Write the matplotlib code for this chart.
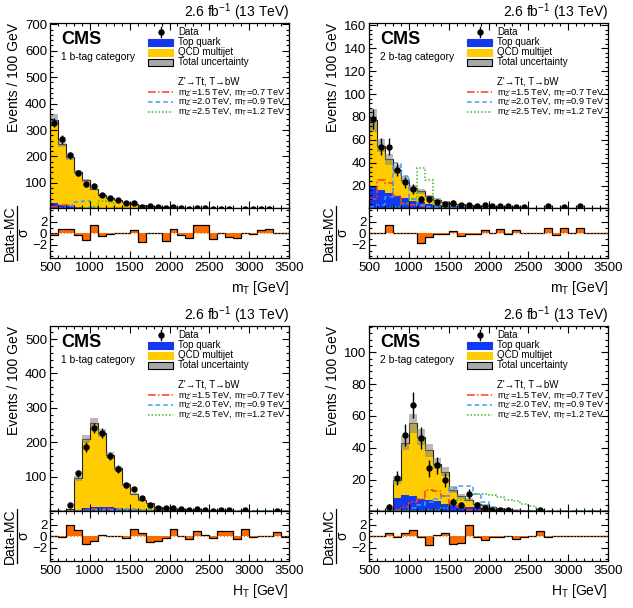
import numpy as np
import matplotlib
matplotlib.use("Agg")
import matplotlib.pyplot as plt
from matplotlib.ticker import MultipleLocator, FixedLocator
from matplotlib.patches import Rectangle
from matplotlib.lines import Line2D

plt.rcParams['font.family'] = ['Liberation Sans', 'DejaVu Sans']
plt.rcParams['mathtext.fontset'] = 'custom'
plt.rcParams['mathtext.rm'] = 'Liberation Sans'
plt.rcParams['mathtext.it'] = 'Liberation Sans:italic'
plt.rcParams['mathtext.bf'] = 'Liberation Sans:bold'

# ---------------- data ----------------
bin_edges = list(range(500, 3600, 100))

# Panel A: m_T, 1 b-tag
A_top = [24, 17, 12, 8, 6, 4.5, 3.5, 2.5, 2, 1.5, 1.2, 1, 0.8, 0.6, 0.5, 0.4, 0.3, 0.3, 0.2, 0.2,
         0.2, 0.1, 0.1, 0.1, 0.1, 0.1, 0.1, 0.1, 0.1, 0.1]
A_qcd = [315, 232, 186, 133, 104, 73.5, 52.5, 40.5, 32, 25.5, 20.8, 16, 12.2, 9.4, 7.5, 6.1, 4.7, 3.7,
         3.1, 2.5, 2.0, 1.7, 1.4, 1.1, 0.9, 0.7, 0.6, 0.5, 0.4, 0.3]
A_unc = [20, 14, 11, 8, 6.5, 4.5, 3.3, 2.6, 2, 1.7, 1.4, 1.1, 0.9, 0.7, 0.6, 0.5, 0.4, 0.3, 0.3, 0.2,
         0.2, 0.2, 0.1, 0.1, 0.1, 0.1, 0.1, 0.1, 0.1, 0.1]
A_data = [328, 265, 204, 138, 95, 87, 53, 41, 34, 24, 25, 10, 13, 10, 4, 8, 4, 2, 6, 5,
          1, 2, 1, 0, 1, 1, 1, 1, 0, 0]
A_sig1 = [10, 18, 16, 6, 3, 1.5, 1, 0.5, 0.3, 0.2, 0.1, 0, 0, 0, 0, 0, 0, 0, 0, 0,
          0, 0, 0, 0, 0, 0, 0, 0, 0, 0]
A_sig2 = [2, 4, 12, 28, 30, 10, 3, 1.5, 1, 0.5, 0.3, 0.2, 0.1, 0, 0, 0, 0, 0, 0, 0,
          0, 0, 0, 0, 0, 0, 0, 0, 0, 0]
A_sig3 = [0.5, 1, 2, 4, 6, 8, 30, 28, 6, 2, 1, 0.5, 0.3, 0.2, 0.1, 0, 0, 0, 0, 0,
          0, 0, 0, 0, 0, 0, 0, 0, 0, 0]
A_ratio = [-0.3, 0.8, 0.8, -0.3, -1.2, 1.5, -0.4, -0.2, 0, 0, 0.6, -1.6, 0, 0, -1.3, 0.7, -0.3, -0.8,
           1.4, 1.4, -1.0, 0, -0.6, -0.8, 0, -0.2, 0.5, 0.7, 0, 0]

# Panel B: m_T, 2 b-tag
B_top = [19, 16.5, 13.5, 11, 9, 7, 5.8, 4.3, 3.3, 2.5, 2, 1.6, 1.3, 1, 0.8, 0.6, 0.5, 0.4, 0.3, 0.3,
         0.2, 0.2, 0.2, 0.1, 0.1, 0.1, 0.1, 0.1, 0.1, 0.1]
B_qcd = [58, 38.5, 29.5, 23, 16, 11, 9.2, 6.4, 4.5, 3, 2.3, 2, 1.7, 1.5, 1.2, 1.1, 0.9, 0.8, 0.7, 0.5,
         0.4, 0.3, 0.2, 0.3, 0.2, 0.2, 0.1, 0.1, 0.1, 0.0]
B_unc = [10, 6, 5, 4, 3, 2.5, 2, 1.5, 1.1, 0.8, 0.6, 0.5, 0.4, 0.4, 0.3, 0.3, 0.2, 0.2, 0.2, 0.1,
         0.1, 0.1, 0.1, 0.1, 0.1, 0.1, 0.1, 0.1, 0.1, 0.1]
B_data = [78, 54, 54, 34, 23, 17, 8, 8, 6, 4, 5, 3, 3, 2, 3, 2, 2, 2, 1, 1,
          0, 0, 2, 0, 1, 0, 2, 0, 0, 0]
B_sig1 = [8, 25, 22, 11, 5, 3, 2, 1, 0.6, 0.4, 0.3, 0.2, 0, 0, 0, 0, 0, 0, 0, 0,
          0, 0, 0, 0, 0, 0, 0, 0, 0, 0]
B_sig2 = [1, 3, 10, 40, 28, 8, 3, 1.5, 1, 0.6, 0.4, 0.3, 0, 0, 0, 0, 0, 0, 0, 0,
          0, 0, 0, 0, 0, 0, 0, 0, 0, 0]
B_sig3 = [0, 0, 0.5, 1.5, 4, 8, 35, 25, 3.5, 1.5, 0.8, 0.5, 0.3, 0, 0, 0, 0, 0, 0, 0,
          0, 0, 0, 0, 0, 0, 0, 0, 0, 0]
B_ratio = [0, 0, 1.5, 0.1, 0, 0, -1.7, -0.6, -0.2, -0.2, 0.4, -0.5, -0.1, -0.1, 0.6, 0, 0.8, -0.1,
           0.5, 0, 0, 0, 0.9, -0.3, 0.9, 0, 0.9, 0, 0, 0]

# Panel C: H_T, 1 b-tag
C_top = [0, 0, 0.5, 4, 9, 13, 13, 11, 8, 6, 4.5, 3, 2, 1.5, 1, 0.8, 0.6, 0.5, 0.4, 0.3,
         0.2, 0.2, 0.1, 0.1, 0.1, 0.1, 0.1, 0.1, 0.1, 0.1]
C_qcd = [0, 0, 5.5, 91, 201, 243, 214, 153, 116, 72, 46.5, 29, 21, 11.5, 8, 6.2, 4.4, 3.5, 2.6, 2.2,
         1.8, 1.4, 1.2, 1.0, 0.8, 0.6, 0.5, 0.4, 0.3, 0.2]
C_unc = [0, 0, 1, 6, 12, 14, 12, 9, 7, 4.5, 3, 2, 1.5, 1, 0.7, 0.5, 0.4, 0.3, 0.3, 0.2,
         0.2, 0.1, 0.1, 0.1, 0.1, 0.1, 0.1, 0.1, 0.1, 0.1]
C_data = [0, 0, 17, 110, 187, 242, 227, 160, 123, 75, 63, 38, 18, 10, 8, 10, 5, 3, 5, 3,
          1, 3, 3, 0, 2, 0, 0, 0, 1, 0]
C_sig1 = [0, 0, 0, 1, 3, 5, 6, 6, 5, 3, 2, 1, 0.5, 0.3, 0.2, 0.1, 0, 0, 0, 0,
          0, 0, 0, 0, 0, 0, 0, 0, 0, 0]
C_sig2 = [0, 0, 0, 0, 1, 2, 3, 4, 5, 5, 5, 4.5, 4, 3, 2, 1, 0.5, 0.3, 0.2, 0,
          0, 0, 0, 0, 0, 0, 0, 0, 0, 0]
C_sig3 = [0, 0, 0, 0, 0, 0.5, 1, 1.5, 2, 3, 3.5, 4, 4, 4, 4, 3.5, 3, 2.5, 2, 1.5,
          1, 0.5, 0.3, 0.2, 0, 0, 0, 0, 0, 0]
C_ratio = [0, -0.1, 2.0, 1.1, -1.3, -0.9, 0.2, 0, 0, -0.3, 1.3, 0.6, -1.0, -0.9, -0.3, 1.2, 0, -0.4,
           0.9, 0.3, -0.3, 0.9, 1.0, -0.4, 1.2, -0.1, 0, 0, 0.7, -0.1]

# Panel D: H_T, 2 b-tag
D_top = [0, 0, 0.2, 8.5, 10.2, 9.6, 8.1, 7.5, 6.5, 4.9, 4, 3.5, 3, 2.5, 2, 1, 0.7, 0.5, 0.4, 0.3,
         0.2, 0.2, 0.1, 0.1, 0.1, 0.1, 0.1, 0.1, 0.1, 0.1]
D_qcd = [0, 0, 0.8, 11.5, 32.8, 45.9, 38.9, 30.9, 23.5, 20.1, 9.8, 6.1, 4.5, 2.5, 1.8, 1.5, 1.3, 1.0,
         0.8, 0.7, 0.6, 0.4, 0.4, 0.3, 0.2, 0.2, 0.1, 0.1, 0.0, 0.0]
D_unc = [0, 0, 1, 2.5, 4.5, 6, 5, 4, 3.5, 3, 2, 1.5, 1.2, 0.9, 0.7, 0.5, 0.4, 0.3, 0.3, 0.2,
         0.2, 0.1, 0.1, 0.1, 0.1, 0.1, 0.1, 0.1, 0.1, 0.1]
D_data = [0, 0, 3, 21, 48, 67, 46, 27, 29, 20, 6, 4, 11, 4, 2, 1, 1, 1, 0, 0,
          0, 1, 0, 0, 0, 0, 0, 0, 0, 0]
D_sig1 = [0, 0, 0, 1, 3, 6, 8, 13.7, 12.8, 9.6, 5, 2.5, 1.2, 0.6, 0.3, 0.2, 0.1, 0, 0, 0,
          0, 0, 0, 0, 0, 0, 0, 0, 0, 0]
D_sig2 = [0, 0, 0, 0, 0.5, 2, 4, 6, 8, 10, 15, 16, 16, 11, 6, 2.5, 1, 0.5, 0.2, 0,
          0, 0, 0, 0, 0, 0, 0, 0, 0, 0]
D_sig3 = [0, 0, 0, 0, 0, 0.2, 0.5, 0.8, 1, 2, 4, 7, 9.5, 11, 11, 10.5, 9, 7.5, 6.5, 5,
          3.5, 1.5, 0.5, 0.2, 0, 0, 0, 0, 0, 0]
D_ratio = [0, 0, 0.5, -0.1, 0.5, 1.1, -0.1, -1.5, 0.3, 0.5, -1.3, -1.1, 1.9, -0.1, -0.7, -0.1, -0.1, 0,
           -0.4, -0.2, 0, 1.0, -0.2, 0, 0, 0, 0, 0, 0, 0]

categories = ["1 b-tag category", "2 b-tag category", "1 b-tag category", "2 b-tag category"]
xlabels = [r"m$_{\mathrm{T}}$ [GeV]", r"m$_{\mathrm{T}}$ [GeV]", r"H$_{\mathrm{T}}$ [GeV]", r"H$_{\mathrm{T}}$ [GeV]"]
sig_labels = [r"m$_{\mathrm{Z'}}$=1.5 TeV, m$_{\mathrm{T}}$=0.7 TeV",
              r"m$_{\mathrm{Z'}}$=2.0 TeV, m$_{\mathrm{T}}$=0.9 TeV",
              r"m$_{\mathrm{Z'}}$=2.5 TeV, m$_{\mathrm{T}}$=1.2 TeV"]

# ---------------- style ----------------
C_BLUE = '#1238f0'
C_YEL = '#ffcc00'
C_UNC = '#808080'
C_ORANGE = '#ff6a00'
SIG_COLORS = ['#ff3b1f', '#3f9bff', '#3dbb2a']
SIG_STYLES = [(0, (5, 1.5, 1, 1.5)), (0, (3, 2)), (0, (1, 1.3))]

W, H = 633.0, 608.0
fig = plt.figure(figsize=(6.33, 6.08), dpi=100)


def rect(l, t, w, h):
    return [l / W, 1 - (t + h) / H, w / W, h / H]


def fx(x):
    return x / W


def fy(y):
    return 1 - y / H


edges = np.array(bin_edges, dtype=float)
centers = 0.5 * (edges[:-1] + edges[1:])


def style_axes(ax, ymaj, ymin_step):
    ax.set_xlim(500, 3500)
    ax.xaxis.set_major_locator(MultipleLocator(500))
    ax.xaxis.set_minor_locator(MultipleLocator(100))
    ax.yaxis.set_major_locator(ymaj)
    ax.yaxis.set_minor_locator(MultipleLocator(ymin_step))
    ax.tick_params(which='both', direction='in', top=True, right=True, labelsize=9.5, width=0.8)
    ax.tick_params(which='major', length=5)
    ax.tick_params(which='minor', length=2.5)
    ax.tick_params(axis='y', pad=2)
    ax.tick_params(axis='x', pad=3)
    for s in ax.spines.values():
        s.set_linewidth(0.9)


def panel(l, t, top, qcd, unc, data, sigs, ratio, ylim, ymaj, ymin_step, category, xlabel):
    top = np.array(top, float)
    qcd = np.array(qcd, float)
    unc = np.array(unc, float)
    data = np.array(data, float)
    total = top + qcd

    ax = fig.add_axes(rect(l, t, 239, 185))
    ax.stairs(top, edges, baseline=0, fill=True, color=C_BLUE, lw=0)
    ax.stairs(total, edges, baseline=top, fill=True, color=C_YEL, lw=0)
    ax.stairs(total, edges, baseline=None, color='#222222', lw=0.8)
    ax.stairs(total + unc, edges, baseline=total - unc, fill=True, color=C_UNC, alpha=0.55, lw=0)
    for s, c, ls in zip(sigs, SIG_COLORS, SIG_STYLES):
        ax.stairs(np.array(s, float), edges, baseline=None, color=c, ls=ls, lw=1.1)
    m = data > 0
    ax.errorbar(centers[m], data[m], yerr=np.sqrt(data[m]), fmt='o', ms=3.6, color='k',
                elinewidth=1.0, capsize=0)
    ax.set_ylim(*ylim)
    style_axes(ax, ymaj, ymin_step)
    ax.tick_params(axis='x', labelbottom=False)
    ax.set_ylabel("Events / 100 GeV", fontsize=10, loc='top')
    ax.yaxis.set_label_coords(-0.12, 1.0)

    ax.text(1.0, 1.03, r"2.6 fb$^{-1}$ (13 TeV)", transform=ax.transAxes, ha='right', va='baseline',
            fontsize=10)
    ax.text(0.046, 0.913, "CMS", transform=ax.transAxes, ha='left', va='center', fontsize=13,
            fontweight='bold')
    ax.text(0.046, 0.815, category, transform=ax.transAxes, ha='left', va='center', fontsize=7.4)

    # legend (manual)
    bx0, bx1, tx = 0.41, 0.515, 0.536
    bh = 0.036
    fs = 7.0
    ys = [0.951, 0.895, 0.841, 0.787]
    ax.plot([0.4625], [ys[0]], 'o', color='k', ms=3.6, transform=ax.transAxes, clip_on=False)
    ax.plot([0.4625, 0.4625], [ys[0] - 0.025, ys[0] + 0.025], color='k', lw=1.0,
            transform=ax.transAxes, clip_on=False)
    ax.text(tx, ys[0], "Data", transform=ax.transAxes, va='center', ha='left', fontsize=fs)
    for y, fc, ec, lab in [(ys[1], C_BLUE, C_BLUE, "Top quark"),
                           (ys[2], C_YEL, C_YEL, "QCD multijet"),
                           (ys[3], '#a9a9a9', 'k', "Total uncertainty")]:
        ax.add_patch(Rectangle((bx0, y - bh / 2), bx1 - bx0, bh, transform=ax.transAxes,
                               facecolor=fc, edgecolor=ec, lw=0.8, clip_on=False))
        ax.text(tx, y, lab, transform=ax.transAxes, va='center', ha='left', fontsize=fs)
    ax.text(tx, 0.686, "Z'\u2192Tt, T\u2192bW", transform=ax.transAxes,
            va='center', ha='left', fontsize=fs)
    for y, c, ls, lab in zip([0.625, 0.573, 0.521], SIG_COLORS, SIG_STYLES, sig_labels):
        ax.add_line(Line2D([bx0, bx1], [y, y], color=c, ls=ls, lw=1.1, transform=ax.transAxes))
        ax.text(tx, y, lab, transform=ax.transAxes, va='center', ha='left', fontsize=6.7)

    # ratio
    r = np.array(ratio, float)
    rt = t + 185
    rx = fig.add_axes(rect(l, rt, 239, 50))
    rx.stairs(r, edges, baseline=0, fill=True, color=C_ORANGE, lw=0)
    rx.stairs(r, edges, baseline=None, color='k', lw=0.9)
    rx.axhline(0, color=C_ORANGE, ls=(0, (1, 2)), lw=0.8)
    rx.set_ylim(-4.3, 4.4)
    style_axes(rx, FixedLocator([-2, 0, 2]), 1)
    # ratio y label as a manual fraction
    yc = rt + 25
    fig.text(fx(l - 40), fy(yc), "Data-MC", rotation=90, ha='center', va='center', fontsize=10)
    fig.add_artist(Line2D([fx(l - 33), fx(l - 33)], [fy(yc - 27), fy(yc + 27)],
                          transform=fig.transFigure, color='k', lw=0.9))
    fig.text(fx(l - 27), fy(yc), "\u03c3", rotation=90, ha='center', va='center', fontsize=10)
    rx.set_xlabel(xlabel, fontsize=10, loc='right')
    rx.xaxis.set_label_coords(1.0, -0.42)
    return ax, rx


panel(50, 23, A_top, A_qcd, A_unc, A_data, [A_sig1, A_sig2, A_sig3], A_ratio,
      (5, 705), MultipleLocator(100), 20, categories[0], xlabels[0])
panel(369, 23, B_top, B_qcd, B_unc, B_data, [B_sig1, B_sig2, B_sig3], B_ratio,
      (0.5, 162), MultipleLocator(20), 4, categories[1], xlabels[1])
panel(50, 326, C_top, C_qcd, C_unc, C_data, [C_sig1, C_sig2, C_sig3], C_ratio,
      (0.5, 538), MultipleLocator(100), 20, categories[2], xlabels[2])
panel(369, 326, D_top, D_qcd, D_unc, D_data, [D_sig1, D_sig2, D_sig3], D_ratio,
      (0.3, 116.5), MultipleLocator(20), 4, categories[3], xlabels[3])

fig.savefig("out.png", dpi=100)
